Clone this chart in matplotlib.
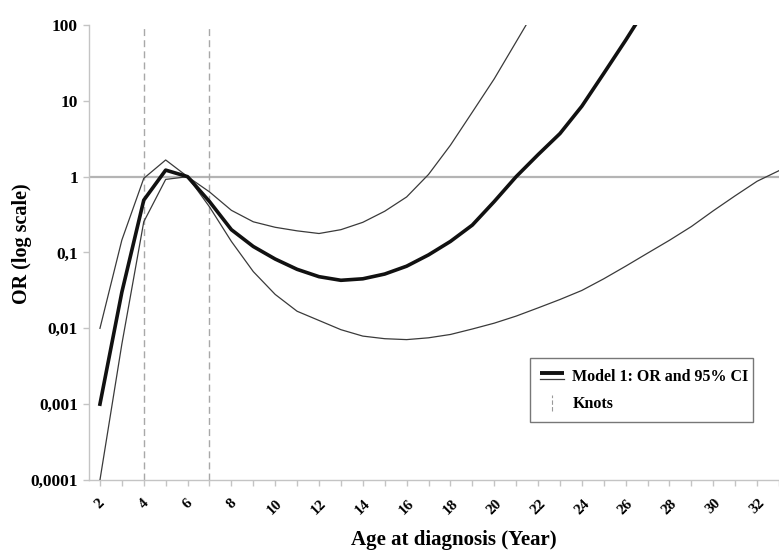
import matplotlib
matplotlib.use('Agg')
import matplotlib.pyplot as plt
from matplotlib.lines import Line2D
from matplotlib.legend_handler import HandlerBase
from matplotlib.ticker import FixedLocator, FixedFormatter

plt.rcParams['font.family'] = 'Liberation Serif'
plt.rcParams['font.weight'] = 'bold'

# odds ratio and 95% CI by age at diagnosis (ref. age 6)
or_age = list(range(2, 28))
or_vals = [0.001, 0.03, 0.49, 1.22, 1.0, 0.47, 0.2, 0.12, 0.082, 0.06, 0.048,
           0.043, 0.045, 0.052, 0.066, 0.093, 0.14, 0.23, 0.47, 1.0, 1.95,
           3.7, 8.5, 23, 63, 180]

upper_age = list(range(2, 23))
upper_vals = [0.01, 0.146, 0.95, 1.66, 1.0, 0.63, 0.36, 0.254, 0.215, 0.193,
              0.178, 0.2, 0.25, 0.35, 0.54, 1.07, 2.6, 7.1, 19.5, 60, 185]

lower_age = list(range(2, 34))
lower_vals = [0.0001, 0.0062, 0.254, 0.92, 1.0, 0.40, 0.14, 0.056, 0.028,
              0.0168, 0.0127, 0.0096, 0.0079, 0.0073, 0.0071, 0.0075, 0.0083,
              0.0098, 0.0117, 0.0145, 0.0186, 0.024, 0.0316, 0.045, 0.066,
              0.098, 0.145, 0.22, 0.355, 0.56, 0.87, 1.2]

knots = [4, 7]
y_ticks = [0.0001, 0.001, 0.01, 0.1, 1, 10, 100]
y_labels = ['0,0001', '0,001', '0,01', '0,1', '1', '10', '100']
x_ticks = list(range(2, 34))
x_labels = [str(t) if t % 2 == 0 else '' for t in x_ticks]

GRID = '#c4c4c4'
THIN = '#3a3a3a'


class PairHandler(HandlerBase):
    # thick line on top of a thin one
    def create_artists(self, legend, orig_handle, xdescent, ydescent,
                       width, height, fontsize, trans):
        y0 = (height - ydescent) / 2
        x = [-xdescent, width - xdescent]
        thick = Line2D(x, [y0 + 1.5, y0 + 1.5], color='#111111', lw=2.8,
                       solid_capstyle='butt', transform=trans)
        thin = Line2D(x, [y0 - 2.5, y0 - 2.5], color=THIN, lw=0.9,
                      transform=trans)
        return [thick, thin]


class KnotHandler(HandlerBase):
    def create_artists(self, legend, orig_handle, xdescent, ydescent,
                       width, height, fontsize, trans):
        xm = width / 2 - xdescent
        ln = Line2D([xm, xm], [-ydescent - 2, height + 1], color='#999999',
                    lw=0.8, linestyle=(0, (4, 2)), transform=trans)
        return [ln]


fig = plt.figure(figsize=(7.79, 5.56), dpi=100)
ax = fig.add_axes([89 / 779, 1 - 480 / 556, 690 / 779, 455 / 556])

ax.set_yscale('log')
ax.set_xlim(1.5, 33.0)
ax.set_ylim(0.0001, 100)

ax.axhline(1, color='#b4b4b4', lw=1.6, zorder=1)
for k in knots:
    ax.axvline(k, color='#a8a8a8', lw=1.0, linestyle=(0, (5, 3)), zorder=1)

ax.plot(upper_age, upper_vals, color=THIN, lw=0.9, zorder=3)
ax.plot(lower_age, lower_vals, color=THIN, lw=0.9, zorder=3)
ax.plot(or_age, or_vals, color='#111111', lw=2.6, zorder=4)

for side in ['top', 'right']:
    ax.spines[side].set_visible(False)
for side in ['left', 'bottom']:
    ax.spines[side].set_color(GRID)
    ax.spines[side].set_linewidth(1.0)

ax.yaxis.set_major_locator(FixedLocator(y_ticks))
ax.yaxis.set_major_formatter(FixedFormatter(y_labels))
ax.yaxis.set_minor_locator(FixedLocator([]))
ax.xaxis.set_major_locator(FixedLocator(x_ticks))
ax.xaxis.set_major_formatter(FixedFormatter(x_labels))
ax.tick_params(axis='both', color=GRID, length=4, width=1.0, direction='out')
ax.tick_params(axis='y', labelsize=12.5, pad=4)
ax.tick_params(axis='x', labelsize=11, pad=8)
for lab in ax.get_xticklabels():
    lab.set_rotation(45)
    lab.set_ha('center')
    lab.set_va('top')

ax.set_ylabel('OR (log scale)', fontsize=14.5, fontweight='bold')
ax.yaxis.set_label_coords(-0.082, 0.52)
ax.set_xlabel('Age at diagnosis (Year)', fontsize=15, fontweight='bold')
ax.xaxis.set_label_coords(0.529, -0.11)

model_handle = object()
knot_handle = object()
leg = ax.legend([model_handle, knot_handle],
                ['Model 1: OR and 95% CI', 'Knots'],
                handler_map={model_handle: PairHandler(),
                             knot_handle: KnotHandler()},
                loc='lower left', bbox_to_anchor=(0.639, 0.127, 0.323, 0.139),
                mode='expand', fontsize=11.5, frameon=True, fancybox=False,
                handlelength=1.5, handletextpad=0.5, borderpad=0.65,
                labelspacing=0.7, borderaxespad=0)
leg.get_frame().set_edgecolor('#555555')
leg.get_frame().set_linewidth(1.0)

fig.savefig('out.png', dpi=100)
